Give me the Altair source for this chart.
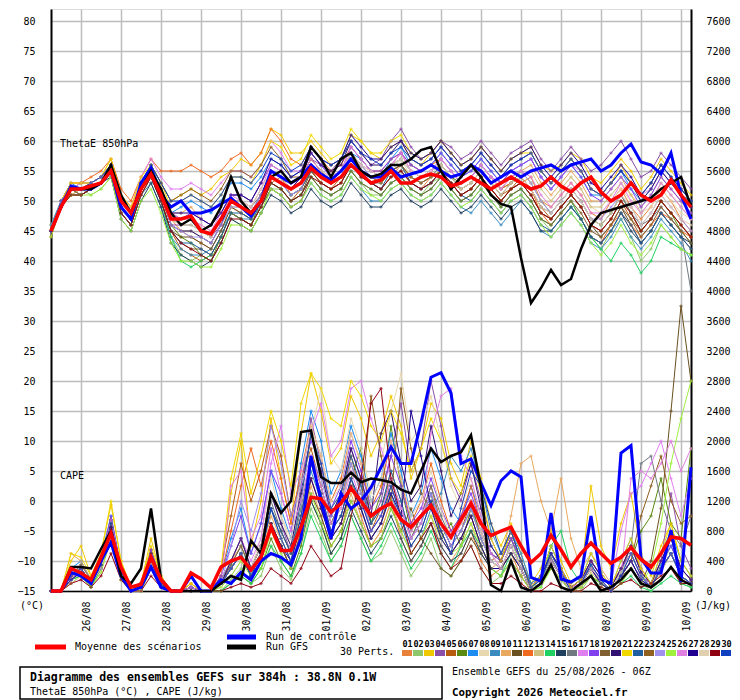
import altair as alt
import pandas as pd

STEP = 6
dates = ["26/08","27/08","28/08","29/08","30/08","31/08","01/09","02/09","03/09","04/09","05/09","06/09","07/09","08/09","09/09","10/09"]
pert_colors = ["#E8823A","#8FC86A","#F0C800","#8C4FA8","#B85C10","#5A8A10","#1E8CF0","#E8D8B0","#3A8CC0","#E8A860",
               "#6B5020","#F06A20","#D0C080","#20D060","#204060","#707880","#E080F0","#8040F0","#806030","#301070",
               "#F0D800","#2060A0","#906020","#A090F0","#A0F040","#E080E0","#200090","#E0D0B0","#900010","#1040C0"]

theta_mean = [45,49,52,52,52.5,53,55,50,48,52,54.5,51,47,47,47.5,45,44.5,47,50,49,48,50,54,53,52,53,55.5,54,53,54,56,54.5,53,53.5,55,53,53,54,54.5,54,52.5,53,54,53,52,53,54,53,52,52.5,54,52.5,51.5,53,54,51.5,50,51,53,51,50,51,53.5,51,49]
theta_ctrl = [45,49,52.5,52,52,53,55,49,47,53,55.5,51,49,50,48,48,48.5,49.5,50.5,49,47.5,50,55,54,53,54,56,54.5,53.5,55,57,55,54,54,55.5,54,54.5,55,56,55,54,54.5,56,55,53,54,55,54,55,55.5,56,55,56,56.5,57,55,56,58,59.5,56.5,56,54.5,58,51,47]
theta_gfs = [45,49,52,52,52,53,56,51,48,52,55,52,48,46,47,45,46,49,54,50,48,50,54,55,53,54,59,57,54,57,58,55,54,54.5,56,56,57,58.5,59,55,52,54,56,54,51,49.5,49,40.5,33,35.5,38.5,36,37,42,46,48,48.5,49,49.5,50,50.5,52,53,54,49]
theta_perts = [
[45,50,52,51,52,53,56,49,47,53,55,52,47,45,44,43,42,45,49,48,47,49,53,54,51,52,55,53,52,53,57,55,53,52,54,56,53,52,54,55,53,51,52,54,52,50,52,53,54,50,49,51,53,51,48,47,50,52,49,47,49,52,50,47,45],
[45,49,51,52,51,52,54,48,46,51,54,50,44,41,40,41,40,43,47,46,45,48,52,52,50,51,54,52,51,52,55,53,51,51,53,54,52,51,53,54,52,50,51,53,51,49,51,52,50,47,45,47,49,47,44,42,45,47,44,40,42,46,44,42,41],
[46,50,53,53,53,54,57,51,49,53,56,53,50,51,52,51,52,54,55,57,56,58,62,61,58,58,60,58,56,57,61,60,58,57,59,60,57,56,58,60,58,56,57,59,57,55,57,58,59,56,55,56,58,57,54,53,55,57,55,52,54,57,55,53,51],
[45,50,52,52,53,54,56,50,48,53,55,51,46,46,47,45,44,46,50,50,48,50,54,53,52,54,57,56,55,57,60,58,56,57,60,62,59,57,58,60,59,57,58,60,58,56,58,59,60,57,55,57,59,57,55,56,58,60,57,54,55,58,56,54,52],
[44,49,51,51,52,53,55,48,46,52,54,50,45,42,41,40,41,44,48,47,46,49,53,52,50,52,55,53,52,54,57,55,54,53,55,56,54,53,54,55,53,52,53,55,53,51,52,54,52,49,47,49,51,49,46,45,47,50,47,45,47,50,48,46,44],
[45,50,52,53,53,54,55,49,47,52,55,51,46,44,43,41,40,44,48,47,46,50,54,53,51,52,56,54,53,54,58,56,54,54,56,57,55,54,55,56,54,53,54,56,54,52,53,55,53,50,48,50,52,50,47,46,48,51,48,45,47,50,48,45,43],
[46,50,53,52,53,54,56,50,48,53,56,52,48,49,50,49,48,50,53,53,52,54,57,56,54,55,58,56,54,55,58,57,55,54,57,59,56,55,56,58,56,54,55,57,55,53,55,56,57,54,52,54,56,54,51,51,53,55,52,50,52,55,53,51,50],
[45,49,52,52,52,53,54,49,47,52,54,51,47,47,47,46,45,47,50,50,49,52,55,54,52,53,56,55,53,54,57,56,54,53,55,57,54,53,54,56,54,52,53,55,53,52,54,55,53,50,50,52,54,52,49,48,50,52,50,48,49,52,50,48,47],
[45,50,52,51,52,53,55,48,46,51,53,49,44,42,41,41,42,45,48,47,47,49,52,51,49,50,53,51,50,51,54,52,50,50,52,53,51,50,51,53,51,49,48,50,48,46,48,50,48,45,44,46,48,46,43,42,44,47,44,42,44,47,45,43,40],
[45,49,51,52,52,53,55,50,48,53,55,52,48,48,49,47,46,48,51,51,50,53,56,55,53,54,57,55,54,55,58,56,55,54,56,58,55,54,55,57,55,53,54,56,54,52,54,55,56,53,51,53,55,53,50,50,52,54,51,49,51,54,52,50,48],
[45,50,52,52,53,54,56,49,47,52,54,50,45,44,44,43,42,45,49,48,47,50,53,52,50,51,55,53,52,53,56,54,53,52,54,55,53,52,53,55,53,51,52,54,52,50,52,53,51,48,47,49,51,49,46,44,46,49,46,43,45,48,46,44,42],
[45,50,53,53,54,55,57,52,50,54,57,55,55,55,56,55,54,55,57,58,56,58,62,60,57,56,59,57,55,56,59,57,55,55,57,58,56,55,56,57,55,53,54,56,54,52,53,54,52,48,46,48,50,47,44,43,46,48,46,44,46,48,47,45,44],
[45,49,52,52,52,53,55,49,47,52,54,50,46,45,45,44,43,46,49,49,48,51,54,53,51,52,56,54,53,54,57,55,54,53,55,56,54,53,54,56,54,52,53,55,53,51,53,54,55,52,50,52,54,52,49,49,51,53,51,48,50,53,51,49,47],
[45,50,52,52,52,53,56,48,46,52,55,50,44,40,39,40,41,44,48,47,46,49,53,52,50,51,54,52,51,52,55,53,52,51,53,54,52,51,52,54,52,50,51,53,51,49,51,52,50,47,46,48,50,47,44,42,40,43,41,38,40,44,43,42,41],
[45,49,51,51,52,53,54,47,45,50,53,49,43,41,40,39,40,43,47,46,45,48,51,50,48,49,52,50,49,50,53,51,49,49,51,52,50,49,50,52,50,48,49,51,49,47,49,50,48,45,45,47,49,47,44,43,45,48,45,43,45,48,46,44,43],
[45,50,52,52,53,54,56,50,48,53,55,51,47,46,46,45,44,47,50,50,49,51,55,54,52,53,56,54,53,54,57,55,53,53,55,56,54,53,54,56,54,52,53,55,53,51,53,54,52,49,48,50,52,50,47,46,48,51,48,46,47,49,47,45,35],
[45,50,52,53,53,54,56,51,49,54,57,54,52,52,53,52,51,53,55,55,54,56,60,58,55,55,58,56,54,55,58,56,55,54,56,58,55,54,55,57,55,53,54,56,54,53,55,56,57,54,52,54,56,55,52,51,53,56,53,51,52,55,53,51,49],
[45,49,52,52,52,53,55,49,47,52,55,52,48,47,48,47,46,48,51,51,50,53,56,55,53,54,58,56,54,55,59,57,55,55,57,58,56,55,56,58,56,54,55,57,55,53,55,56,57,54,52,54,56,54,51,50,52,54,52,49,51,54,52,50,48],
[45,50,52,51,52,53,55,48,46,51,54,50,45,43,42,42,41,44,48,47,46,49,52,51,49,50,54,52,51,52,55,53,52,51,53,54,52,51,52,54,52,50,51,53,51,49,51,52,50,47,46,48,50,48,45,44,46,49,47,44,46,49,47,45,43],
[45,50,52,52,53,54,56,50,48,53,55,51,46,45,45,44,43,46,50,49,48,51,55,54,52,54,58,56,55,56,60,58,56,56,58,60,57,56,57,59,57,55,56,58,56,54,56,57,58,55,53,55,57,55,52,51,53,55,53,50,52,55,53,51,49],
[45,50,53,53,53,54,57,51,49,54,56,53,49,50,51,50,49,51,54,54,53,56,60,59,56,57,61,59,57,58,62,60,58,58,60,61,58,57,58,60,58,56,57,59,57,55,57,58,58,55,53,55,57,55,52,51,53,56,53,51,53,56,54,52,50],
[45,49,52,52,52,53,55,49,47,52,54,50,45,43,43,42,41,44,48,48,47,50,54,53,51,52,55,54,53,54,57,55,53,52,55,56,53,52,53,55,53,51,50,52,50,48,50,51,49,46,45,47,49,47,44,43,45,48,46,43,45,48,46,44,42],
[45,50,52,52,53,54,56,49,47,53,56,53,50,51,52,51,50,52,55,55,54,56,59,57,54,54,57,55,53,54,57,55,54,53,55,56,54,53,54,55,53,51,52,54,52,50,52,53,51,48,47,49,51,49,46,45,47,50,48,45,47,50,48,46,44],
[45,50,52,52,52,53,56,49,47,52,54,51,46,45,44,44,43,46,49,49,48,51,54,53,51,52,56,54,53,54,58,56,54,54,56,57,55,54,55,57,55,53,54,56,54,52,54,55,53,50,48,50,52,50,47,47,49,51,49,46,48,51,49,47,45],
[44,49,51,51,51,52,54,47,45,50,52,48,43,40,40,39,39,42,46,46,45,48,52,51,49,50,53,51,50,51,54,52,51,50,52,53,51,50,51,53,51,49,50,52,50,48,50,51,49,46,44,46,48,46,43,41,43,46,43,41,43,46,44,42,41],
[45,50,52,52,53,54,55,50,48,53,55,52,48,47,47,46,45,48,51,50,49,52,56,55,53,54,57,55,54,55,59,57,55,54,56,58,55,54,55,57,55,53,54,56,54,52,54,55,54,51,49,51,53,51,48,48,50,53,50,48,50,53,51,49,47],
[45,49,52,52,52,53,55,49,47,52,55,52,48,48,48,47,46,48,51,51,50,53,57,56,54,55,59,57,56,57,61,59,57,57,59,60,58,57,58,60,58,56,57,59,57,55,57,58,59,56,54,56,58,56,53,52,54,56,54,51,53,56,54,52,50],
[45,50,52,52,53,54,56,50,48,53,55,52,47,46,46,45,44,47,50,50,49,52,55,54,52,53,56,55,54,55,58,56,55,54,56,57,55,54,55,56,54,52,53,55,53,51,53,54,52,49,48,50,52,50,47,46,48,51,49,46,48,51,49,47,46],
[45,49,51,51,52,53,55,48,46,51,54,50,45,43,42,41,40,43,47,47,46,49,53,52,50,51,54,53,52,53,56,54,53,52,54,55,53,52,53,55,53,51,52,54,52,50,52,53,51,48,47,49,51,49,46,45,47,50,48,45,47,50,48,46,44],
[45,50,52,52,53,54,56,50,48,53,56,53,50,50,51,50,49,51,54,54,53,55,58,57,55,56,59,57,56,57,60,58,57,56,58,59,57,56,57,59,57,55,56,58,56,54,56,57,58,55,53,55,57,55,52,51,53,55,53,51,53,56,54,52,50],
]

cape_mean = [0,0,300,240,150,450,770,320,50,90,450,150,0,0,240,160,40,320,400,450,280,450,850,540,540,850,1250,1230,1050,1170,1370,1200,1000,1100,1170,950,850,1000,1140,900,720,950,1170,900,740,800,850,600,380,500,740,550,320,500,640,500,370,450,580,420,320,500,720,700,610]
cape_ctrl = [0,0,250,200,100,400,650,200,0,50,320,50,0,0,200,0,0,150,100,250,150,400,500,450,350,700,1800,1200,700,1300,1100,1200,1380,1650,1920,1700,1700,2240,2850,2910,2640,1700,1760,1440,1140,1470,1600,1520,180,130,1040,160,120,200,1000,160,100,1840,1940,440,240,240,810,120,1650]
cape_gfs = [0,0,320,320,300,560,800,200,100,300,1100,160,0,0,0,0,0,100,200,150,670,500,1300,1040,1200,2120,2140,1520,1440,1440,1580,1450,1500,1480,1450,1350,1300,1600,1900,1720,1800,1850,2080,1380,80,0,400,50,0,100,350,50,0,100,200,0,50,150,300,100,50,150,320,150,80]
cape_perts = [
[0,0,150,300,100,400,900,300,0,50,500,100,0,0,50,0,0,100,300,500,200,400,900,600,300,800,1500,1100,700,900,1400,1000,600,800,1200,700,400,600,900,500,300,500,800,400,200,300,500,200,0,100,400,200,0,100,300,100,0,200,400,150,50,300,500,200,100],
[0,0,250,200,50,300,700,150,0,0,350,50,0,0,0,0,0,0,150,300,100,200,600,300,150,500,1100,800,400,600,1000,700,400,500,800,500,200,400,700,300,200,400,600,300,100,200,700,300,50,100,300,150,0,0,200,50,0,100,300,100,0,150,300,100,50],
[0,0,400,600,200,500,1150,400,50,100,700,200,0,0,100,0,0,200,1300,2000,600,1200,2300,1500,900,2100,2900,2400,1700,1900,2600,2300,1800,2100,2600,2200,1500,1900,2500,2300,1700,1400,2000,1500,900,600,900,500,100,300,800,400,100,200,1400,600,300,900,1300,500,200,600,900,400,200],
[0,0,200,250,100,400,950,250,0,50,450,100,0,0,50,0,0,100,400,700,300,600,1300,900,500,1400,2300,1700,1000,1300,1900,1500,900,1200,1800,2500,1600,1900,2800,2200,1500,1200,1700,1200,700,400,700,400,50,200,600,300,50,100,400,200,50,300,600,250,100,400,1300,600,300],
[0,0,200,350,150,350,850,200,0,100,550,150,0,0,0,0,0,300,1000,1700,1200,1600,2200,1800,1000,1500,1900,1400,900,1200,1800,1300,800,1100,1500,1100,700,1000,1400,900,600,800,1200,700,400,500,800,400,100,200,500,250,50,150,400,200,50,300,500,200,100,300,500,200,100],
[0,0,150,200,80,300,800,200,0,0,400,80,0,0,0,0,0,0,100,200,100,300,700,400,200,600,1200,900,500,700,1500,1900,900,1300,2200,1400,800,1000,1300,700,900,600,1100,800,400,300,500,300,0,100,300,150,0,50,200,100,0,200,400,800,1000,1500,900,700,1900],
[0,0,300,400,150,450,1000,300,50,100,500,150,0,0,50,0,0,200,700,1100,500,900,1600,1100,700,1700,2400,2000,1300,1600,2200,1800,1200,1500,2100,1600,1000,1300,1900,1500,1100,900,1400,1000,600,400,800,500,100,200,600,300,50,150,500,250,50,400,700,300,100,500,800,400,200],
[0,0,150,250,100,300,750,200,0,50,350,100,0,0,0,0,0,100,300,500,300,700,1500,1000,600,1200,2100,2700,1800,1600,2300,1900,1300,1700,2400,2900,2000,2200,2600,2000,1400,1100,1500,1000,500,300,600,300,0,100,400,200,0,100,300,150,0,200,500,200,50,300,600,300,150],
[0,0,200,300,100,350,900,250,0,50,450,100,0,0,0,0,0,100,350,600,250,500,1100,700,400,900,1600,1200,800,1000,1500,1100,700,900,1300,900,500,700,1100,1300,1800,1600,1900,1400,800,500,800,400,50,150,500,250,0,100,350,150,0,250,500,200,50,350,600,300,150],
[0,0,500,400,150,400,850,250,0,50,400,100,0,0,50,0,0,150,400,600,300,500,1000,700,400,800,1400,1000,600,800,1300,900,600,800,1200,800,500,700,1000,600,400,600,900,500,300,400,1000,1700,1800,1200,800,1500,700,300,500,300,100,300,500,200,100,300,500,200,100],
[0,0,200,300,100,350,850,250,0,50,450,100,0,0,0,0,0,100,300,500,200,400,900,600,300,700,1300,1000,600,800,1200,900,600,700,1100,800,1100,700,500,300,200,400,700,500,300,200,400,200,0,100,300,150,0,50,200,100,0,200,300,100,400,1100,2400,3800,2800],
[0,0,150,250,100,350,800,300,50,100,500,200,0,0,100,0,0,200,800,1400,1900,1400,2000,1500,900,1600,2200,1800,1200,1500,2100,1700,1100,1400,2000,1500,900,1200,1700,1200,800,1000,1400,900,500,400,700,400,50,200,500,300,50,150,400,200,50,300,600,300,100,400,700,300,150],
[0,0,100,200,50,250,700,200,0,0,350,50,0,0,0,0,0,50,200,400,200,400,900,700,400,1000,1800,1400,900,1100,1700,1300,800,1000,1500,1100,700,900,1300,900,600,800,1100,700,400,300,600,300,0,100,350,150,0,50,250,100,0,200,400,150,50,250,500,200,100],
[0,0,150,200,50,300,700,200,0,0,300,50,0,0,0,0,0,0,100,200,100,300,600,400,200,500,1000,700,400,600,1000,700,400,600,900,600,300,500,800,500,300,600,800,600,300,200,500,300,0,50,600,800,300,100,200,100,0,100,200,50,0,100,200,100,50],
[0,0,200,300,100,350,850,250,0,50,400,100,0,0,0,0,0,100,300,500,200,400,900,600,300,700,1200,900,500,700,1100,800,500,700,1000,700,400,600,900,600,400,500,800,500,300,300,600,300,0,100,400,200,0,100,300,100,0,200,400,150,50,300,500,200,100],
[0,0,200,350,150,400,950,300,50,100,500,150,0,0,50,0,0,150,400,700,300,600,1200,800,500,1100,1800,1400,900,1200,1700,1300,900,1100,1600,1200,700,1000,1400,1000,700,900,1200,800,500,400,700,400,50,150,450,200,0,100,350,150,0,250,600,1700,1800,1200,800,600,1000],
[0,0,150,250,100,350,800,250,0,50,450,100,0,0,0,0,0,100,400,700,400,700,1700,2200,1300,1600,2100,2500,1800,2000,2700,2800,2300,1900,1500,1100,800,1000,1300,900,600,900,1200,800,400,300,600,300,0,100,400,200,50,100,300,200,100,800,1300,1400,1700,2000,1500,1000,1500],
[0,0,200,300,100,400,1000,300,50,100,550,150,0,0,50,0,0,200,600,1000,500,900,1600,1300,800,1500,2000,1700,1100,1400,2000,1600,1100,1300,1800,1400,900,1100,1500,1100,800,1000,1300,900,500,400,700,400,50,200,500,250,50,150,400,200,50,300,500,200,100,400,600,300,150],
[0,0,200,300,100,350,900,250,0,50,450,100,0,0,0,0,0,100,350,600,300,500,1100,800,500,1000,1700,1300,800,1000,1500,1100,700,900,1400,1000,600,800,1200,800,500,700,1000,600,300,300,600,300,0,100,400,200,0,100,300,150,0,200,400,150,50,300,500,200,100],
[0,0,200,300,100,400,950,300,50,100,500,150,0,0,50,0,0,100,400,700,300,600,1300,900,600,1300,2100,1600,1000,1300,1900,1500,1000,2100,2400,1700,1200,1400,2200,1600,1000,1300,1700,1100,600,400,800,400,50,200,500,300,50,150,400,200,50,300,600,250,100,400,700,300,150],
[0,0,500,450,200,500,1200,400,50,100,600,200,0,0,100,0,0,300,1500,2100,1300,1800,2400,2000,1400,2500,2900,2700,2300,2200,2800,2600,2200,2000,2400,2100,1600,1900,2300,2000,1500,1300,1800,1300,700,400,800,400,50,200,600,300,50,150,500,250,50,400,700,300,100,500,900,400,200],
[0,0,150,250,100,350,800,250,0,50,400,100,0,0,0,0,0,100,300,500,200,500,1100,800,500,1200,2100,1700,1100,1300,1800,1400,900,1100,1600,1200,700,900,1300,900,600,800,1100,700,400,300,600,300,0,100,400,200,0,100,300,100,0,200,400,150,50,300,500,200,100],
[0,0,200,300,100,350,850,250,0,50,450,100,0,0,0,0,0,100,300,500,200,400,900,600,300,800,1500,1100,700,900,1400,1100,2600,1800,1200,2700,1900,1300,1100,800,500,700,1000,600,300,300,500,300,0,100,400,200,0,100,300,100,0,200,400,1000,1400,1800,1200,900,1000],
[0,0,150,250,100,300,800,250,0,50,400,100,0,0,0,0,0,100,600,1200,800,1300,2200,1700,1000,1400,1800,1500,1000,1200,1700,1300,800,1000,1500,1100,700,900,1300,900,600,800,1100,700,400,300,600,300,0,100,400,200,0,100,300,100,0,200,400,150,50,300,500,200,100],
[0,0,100,200,50,250,700,150,0,0,300,50,0,0,0,0,0,50,200,400,200,300,800,500,300,700,1300,900,600,800,1200,900,600,700,1100,800,500,700,1000,700,500,600,900,600,300,200,400,200,0,50,300,150,0,50,200,100,0,100,300,100,300,900,1700,2300,2800],
[0,0,200,300,100,400,950,300,0,50,450,100,0,0,50,0,0,100,1400,1600,700,1000,1900,1300,800,1200,1800,1400,900,1100,1600,1200,800,1000,1500,1100,700,900,2100,2600,2700,1800,1500,1000,500,300,600,300,0,100,400,200,0,100,300,150,0,200,1500,1600,1500,1700,2000,1600,1900],
[0,0,150,250,100,300,850,250,0,50,400,100,0,0,0,0,0,100,300,500,200,400,900,600,400,900,1500,1100,700,900,1400,1100,700,900,1300,1000,2400,1800,1100,700,500,700,1000,600,300,300,500,300,0,100,400,200,0,100,300,100,0,200,400,150,50,300,500,200,100],
[0,0,100,200,100,300,750,200,0,0,350,50,0,0,0,0,0,100,300,500,300,600,1300,1000,700,1500,2200,1800,1200,1400,2100,1700,1200,1500,2000,1500,1000,1200,1600,1100,700,900,1200,800,400,300,600,300,0,100,400,200,0,100,300,150,0,250,500,200,50,300,500,200,100],
[0,0,100,150,50,200,500,150,0,0,200,50,0,0,0,0,0,0,50,100,50,100,300,200,100,300,600,400,200,300,1000,1500,2500,2700,1500,1000,500,700,900,500,300,400,600,300,100,100,200,100,0,0,100,50,0,0,100,50,0,100,150,50,100,200,300,100,100],
[0,0,200,300,100,350,900,250,0,50,450,100,0,0,0,0,0,100,300,500,200,500,1100,700,400,1000,1700,1300,800,1000,1500,1200,800,1000,1400,1000,600,800,1200,800,500,1100,1600,1400,900,500,800,400,50,150,500,250,0,100,350,150,0,200,500,200,50,300,500,200,100],
]

# ---------- long-form table ----------
rows = []
def add(name, var, vals):
    for i, v in enumerate(vals):
        y = v if var == "theta" else -15 + v / 80.0
        rows.append({"h": i * STEP, "y": y, "s": name, "key": name + var})
for k, vals in enumerate(theta_perts):
    add("P%02d" % (k + 1), "theta", vals)
for k, vals in enumerate(cape_perts):
    add("P%02d" % (k + 1), "cape", vals)
add("ctrl", "theta", theta_ctrl); add("ctrl", "cape", cape_ctrl)
add("gfs", "theta", theta_gfs); add("gfs", "cape", cape_gfs)
add("mean", "theta", theta_mean); add("mean", "cape", cape_mean)
df = pd.DataFrame(rows)

FONT = "DejaVu Sans Mono"
W, H = 640, 582
xs = alt.Scale(domain=[0, 384], nice=False, zero=False)
ys = alt.Scale(domain=[-15, 82], nice=False, zero=False)
tickvals = [18 + 24 * k for k in range(16)]
lbl_js = "[" + ",".join("'%s'" % d for d in dates) + "]"

X = alt.X("h:Q", scale=xs, axis=alt.Axis(values=tickvals, labelExpr=lbl_js + "[round((datum.value-18)/24)]",
          labelAngle=-90, labelAlign="right", labelBaseline="top", labelPadding=10, tickSize=0,
          title=None, grid=True, gridColor="#bdbdbd", gridWidth=1.5, domainColor="black", domainWidth=1.5,
          labelFont=FONT, labelFontSize=10, labelColor="black"))
Y = alt.Y("y:Q", scale=ys, axis=alt.Axis(values=list(range(-15, 81, 5)), orient="left", tickSize=0, labelPadding=16,
          title=None, grid=True, gridColor="#bdbdbd", gridWidth=1.5, domainColor="black", domainWidth=2,
          labelFont=FONT, labelFontSize=10, labelColor="black"))
XN = alt.X("h:Q")
YN = alt.Y("y:Q", axis=None)

perts = df[df.s.str.startswith("P")]
names = ["P%02d" % (k + 1) for k in range(30)]
pc = alt.Color("s:N", scale=alt.Scale(domain=names, range=pert_colors), legend=None)
base_p = alt.Chart(perts)
l_p = base_p.mark_line(strokeWidth=1).encode(x=X, y=Y, color=pc, detail="key:N")
pt_p = base_p.mark_point(shape="cross", size=10, filled=True, strokeWidth=0).encode(x=XN, y=YN, color=pc, detail="key:N")

def single(name, color, sw):
    d = df[df.s == name]
    return alt.Chart(d).mark_line(color=color, strokeWidth=sw).encode(x=XN, y=YN, detail="key:N")

right_axis = alt.Chart(df[df.s == "mean"]).mark_line(opacity=0).encode(
    x=XN,
    y=alt.Y("y:Q", scale=ys, axis=alt.Axis(values=list(range(-15, 81, 5)), orient="right", tickSize=0, labelPadding=15,
            labelExpr="(datum.value+15)*80", title=None, grid=False, domainColor="black", domainWidth=2,
            labelFont=FONT, labelFontSize=10, labelColor="black", labelAlign="left")))

def txt(s, x, y, size=10, bold=False, align="left", color="black"):
    return alt.Chart(pd.DataFrame({"t": [s]})).mark_text(text=s, font=FONT, fontSize=size,
        fontWeight="bold" if bold else "normal", align=align, baseline="middle", color=color).encode(
        x=alt.value(x), y=alt.value(y))

def hline(x1, x2, y, color, sw):
    return alt.Chart(pd.DataFrame({"a": [0]})).mark_rule(color=color, strokeWidth=sw).encode(
        x=alt.value(x1), x2=alt.value(x2), y=alt.value(y))

leg = pd.DataFrame({"k": list(range(30)), "s": names, "n": ["%02d" % (k + 1) for k in range(30)]})
leg_box_base = alt.Chart(leg).transform_calculate(
    h="(351 + 11*datum.k) * 0.6", h2="(361 + 11*datum.k) * 0.6", y="82 - 641/6", y2="82 - 647/6")
leg_boxes = leg_box_base.mark_rect().encode(x="h:Q", x2="h2:Q", y=alt.Y("y:Q", axis=None), y2="y2:Q", color=pc)
leg_nums = alt.Chart(leg).transform_calculate(h="(356.5 + 11*datum.k) * 0.6", y="82 - 635/6").mark_text(
    font=FONT, fontSize=8.5, fontWeight="bold", baseline="middle").encode(
    x="h:Q", y=alt.Y("y:Q", axis=None), text="n:N")

box = alt.Chart(pd.DataFrame({"a": [0]})).mark_rect(fill=None, stroke="black", strokeWidth=1.5).encode(
    x=alt.value(-31), x2=alt.value(391), y=alt.value(658), y2=alt.value(690))

chart = alt.layer(
    l_p, pt_p,
    single("ctrl", "#0000ff", 3),
    single("gfs", "black", 2.5),
    single("mean", "#ff0000", 3.5),
    right_axis,
    txt("ThetaE 850hPa", 9, 135), txt("CAPE", 9, 467),
    txt("(°C)", -19, 597, align="center"), txt("(J/kg)", 662, 597, align="center"),
    hline(-16, 15, 638, "#ff0000", 5), txt("Moyenne des scénarios", 24, 638),
    hline(176, 205, 628, "#0000ff", 5), txt("Run de contrôle", 215, 628),
    hline(176, 205, 638, "black", 5), txt("Run GFS", 215, 638),
    txt("30 Perts.", 289, 643),
    leg_boxes, leg_nums,
    box,
    txt("Diagramme des ensembles GEFS sur 384h : 38.8N 0.1W", -21, 669, size=11.5, bold=True),
    txt("ThetaE 850hPa (°C) , CAPE (J/kg)", -21, 683),
    txt("Ensemble GEFS du 25/08/2026 - 06Z", 401, 663),
    txt("Copyright 2026 Meteociel.fr", 401, 684, size=10.8, bold=True),
).resolve_axis(y="independent").properties(
    width=W, height=H, autosize=alt.AutoSizeParams(type="none"),
    padding={"left": 43, "top": 1, "right": 41, "bottom": 110},
).configure_view(stroke=None).configure(background="white")

chart.save("out.html", embed_options={"renderer": "svg", "actions": False})
